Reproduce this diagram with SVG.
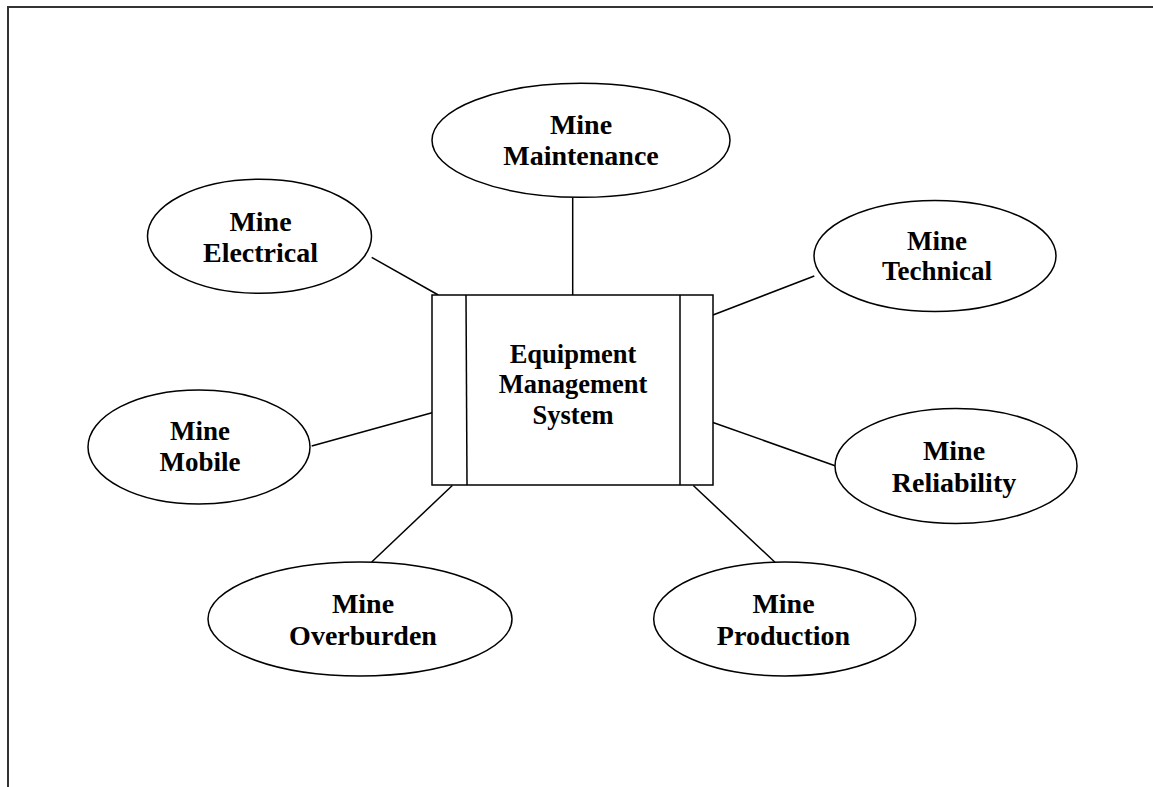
<svg xmlns="http://www.w3.org/2000/svg" width="1153" height="787" viewBox="0 0 1153 787">
<style>
.shape{fill:#fff;stroke:#000;stroke-width:1.5}
.conn line{stroke:#000;stroke-width:1.5}
.frame{fill:none;stroke:#333;stroke-width:2}
text{font-family:"Liberation Serif","Times New Roman",serif;font-weight:bold;font-size:28px;text-anchor:middle;fill:#000}
.c{font-size:26.5px}
</style>
<rect width="1153" height="787" fill="#fff"/>
<path class="frame" d="M8,787 V7 H1153"/>
<g id="connectors" class="conn">
<line x1="572.7" y1="197.3" x2="572.7" y2="295"/>
<line x1="371.7" y1="257.3" x2="438.3" y2="295"/>
<line x1="713" y1="315" x2="814.3" y2="276"/>
<line x1="311.7" y1="446" x2="432" y2="412.7"/>
<line x1="713" y1="422.5" x2="835" y2="465.7"/>
<line x1="452.3" y1="485.5" x2="371.7" y2="562"/>
<line x1="693.3" y1="485.5" x2="775" y2="562.3"/>
</g>
<g id="ems">
<rect class="shape" x="432" y="295" width="281" height="190"/>
<line x1="466" y1="295" x2="467" y2="485" stroke="#000" stroke-width="1.5"/>
<line x1="680" y1="295" x2="680" y2="485" stroke="#000" stroke-width="1.5"/>
<text class="c" x="573" y="363">Equipment</text>
<text class="c" x="573" y="393">Management</text>
<text class="c" x="573" y="424">System</text>
</g>
<g id="maintenance">
<ellipse class="shape" cx="581" cy="140.3" rx="149" ry="57"/>
<text x="581" y="134.3">Mine</text>
<text x="581" y="165.3">Maintenance</text>
</g>
<g id="electrical">
<ellipse class="shape" cx="259.5" cy="236.3" rx="112" ry="57"/>
<text x="260.5" y="231">Mine</text>
<text x="260.5" y="262">Electrical</text>
</g>
<g id="technical">
<ellipse class="shape" cx="935" cy="256" rx="121" ry="55.5"/>
<text x="937" y="250" style="font-size:27px">Mine</text>
<text x="937" y="280" style="font-size:27px">Technical</text>
</g>
<g id="mobile">
<ellipse class="shape" cx="199" cy="447" rx="111" ry="57"/>
<text x="200" y="440" style="font-size:27px">Mine</text>
<text x="200" y="471" style="font-size:27px">Mobile</text>
</g>
<g id="reliability">
<ellipse class="shape" cx="956" cy="466" rx="121" ry="57.5"/>
<text x="954" y="460">Mine</text>
<text x="954" y="492">Reliability</text>
</g>
<g id="overburden">
<ellipse class="shape" cx="360" cy="619" rx="152" ry="57"/>
<text x="363" y="613">Mine</text>
<text x="363" y="645">Overburden</text>
</g>
<g id="production">
<ellipse class="shape" cx="784.7" cy="619" rx="131" ry="57"/>
<text x="783.5" y="613">Mine</text>
<text x="783.5" y="645">Production</text>
</g>
</svg>
